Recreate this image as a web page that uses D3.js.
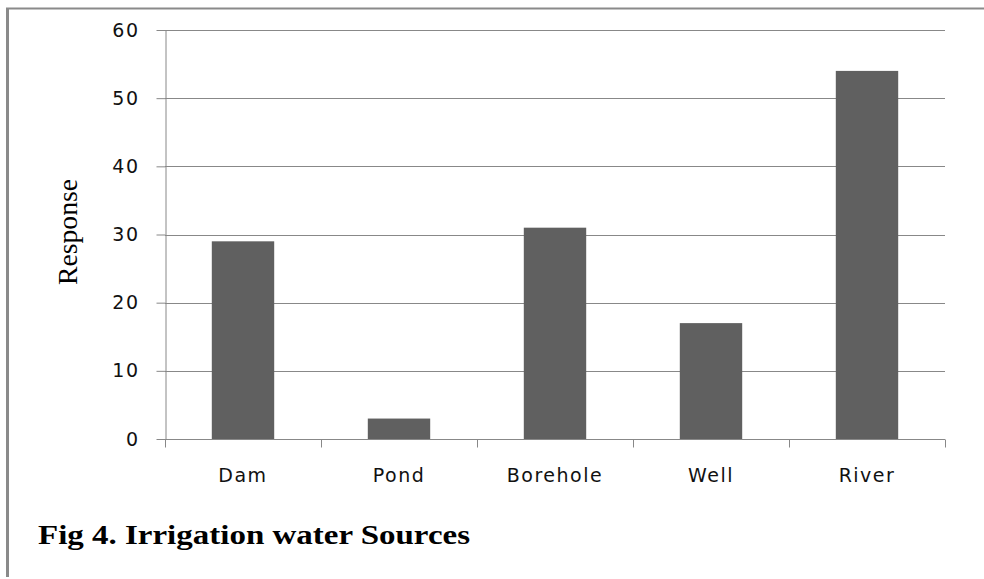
<!DOCTYPE html>
<html>
<head>
<meta charset="utf-8">
<script src="https://cdn.jsdelivr.net/npm/d3@7"></script>
<style>
  body { margin: 0; background: #fff; }
  .tick text { font-family: "DejaVu Sans", Verdana, sans-serif; font-size: 19px; letter-spacing: 1.5px; fill: #111; }
  .domain, .tick line { stroke: #888; }
</style>
</head>
<body>
<div id="chart"></div>
<script>
var categories = ["Dam", "Pond", "Borehole", "Well", "River"];
var responses = [29, 3, 31, 17, 54];
var yTicks = [0, 10, 20, 30, 40, 50, 60];

var W = 984, H = 579;
var margins = { top: 30, right: 39, bottom: 140, left: 165 },
    width = W - margins.left - margins.right,
    height = H - margins.top - margins.bottom;

var svg = d3.select("#chart")
    .append("svg")
    .attr("width", W)
    .attr("height", H);

// outer frame (top and left edges only visible)
svg.append("line")
    .attr("x1", 6).attr("x2", W)
    .attr("y1", 8.5).attr("y2", 8.5)
    .style("stroke", "#8a8a8a").style("stroke-width", 2);
svg.append("line")
    .attr("x1", 7.5).attr("x2", 7.5)
    .attr("y1", 8).attr("y2", 577)
    .style("stroke", "#8a8a8a").style("stroke-width", 3);

var g = svg.append("g")
    .attr("transform", "translate(" + margins.left + "," + margins.top + ")");

var x = d3.scaleBand()
    .domain(categories)
    .range([0, width])
    .paddingInner(0.6)
    .paddingOuter(0.3);

var y = d3.scaleLinear()
    .domain([0, 60])
    .range([height, 0]);

// horizontal gridlines
g.append("g")
    .selectAll("line")
    .data(yTicks.slice(1))
    .enter()
    .append("line")
    .attr("x1", 0).attr("x2", width)
    .attr("y1", function(d) { return Math.round(y(d)) + 0.5; })
    .attr("y2", function(d) { return Math.round(y(d)) + 0.5; })
    .style("stroke", "#888");

// bars
g.append("g")
    .selectAll("rect")
    .data(responses)
    .enter()
    .append("rect")
    .attr("x", function(d, i) { return x(categories[i]); })
    .attr("y", function(d) { return y(d); })
    .attr("width", x.bandwidth())
    .attr("height", function(d) { return height - y(d); })
    .style("fill", "#606060");

// y axis
g.append("g")
    .attr("transform", "translate(0.5,0)")
    .call(d3.axisLeft(y).tickValues(yTicks).tickSize(9).tickPadding(17).tickSizeOuter(0));

// x axis with ticks at category boundaries
var xAxisG = g.append("g")
    .attr("transform", "translate(0," + (height + 0.5) + ")");
xAxisG.append("line")
    .attr("x1", 0).attr("x2", width)
    .style("stroke", "#888");
xAxisG.selectAll(".sep")
    .data(d3.range(categories.length + 1))
    .enter()
    .append("line")
    .attr("class", "sep")
    .attr("x1", function(i) { return Math.round(i * x.step()) + 0.5; })
    .attr("x2", function(i) { return Math.round(i * x.step()) + 0.5; })
    .attr("y1", 0).attr("y2", 8)
    .style("stroke", "#888");
xAxisG.selectAll(".lab")
    .data(categories)
    .enter()
    .append("text")
    .attr("x", function(d) { return x(d) + x.bandwidth() / 2; })
    .attr("y", 42.5)
    .attr("text-anchor", "middle")
    .style("font-family", "DejaVu Sans, Verdana, sans-serif")
    .style("font-size", "19px")
    .style("letter-spacing", "1.5px")
    .style("fill", "#111")
    .text(function(d) { return d; });

// y axis title
svg.append("text")
    .attr("transform", "translate(77,232) rotate(-90)")
    .attr("text-anchor", "middle")
    .attr("textLength", 106)
    .attr("lengthAdjust", "spacingAndGlyphs")
    .style("font-family", "Liberation Serif, Times New Roman, serif")
    .style("font-size", "27px")
    .text("Response");

// figure caption
svg.append("text")
    .attr("x", 38)
    .attr("y", 544)
    .attr("textLength", 432)
    .attr("lengthAdjust", "spacingAndGlyphs")
    .style("font-family", "Liberation Serif, Times New Roman, serif")
    .style("font-weight", "bold")
    .style("font-size", "27px")
    .text("Fig 4. Irrigation water Sources");
</script>
</body>
</html>
